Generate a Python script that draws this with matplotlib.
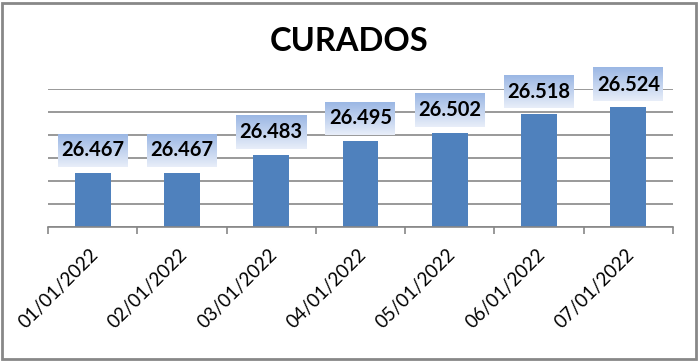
import matplotlib.pyplot as plt
import matplotlib.transforms as mtransforms
import numpy as np

dates = ['01/01/2022', '02/01/2022', '03/01/2022', '04/01/2022',
         '05/01/2022', '06/01/2022', '07/01/2022']
curados = [26.467, 26.467, 26.483, 26.495, 26.502, 26.518, 26.524]
labels = ['26.467', '26.467', '26.483', '26.495', '26.502', '26.518', '26.524']

plt.rcParams['font.family'] = ['Lato', 'DejaVu Sans']

W, H = 698, 361
fig = plt.figure(figsize=(W / 100, H / 100), dpi=100)
ax = fig.add_axes([48 / W, (H - 227) / H, 625 / W, 138 / H])

x = np.arange(len(dates))
ax.bar(x, curados, width=0.4, color='#4F81BD', zorder=3)
ax.set_xlim(-0.5, len(dates) - 0.5)
ax.set_ylim(26.42, 26.54)
ax.set_yticks(np.arange(26.42, 26.541, 0.02))
ax.yaxis.grid(True, color='#878787', linewidth=1.2)
ax.tick_params(axis='y', left=False, labelleft=False)
for s in ['left', 'top', 'right']:
    ax.spines[s].set_visible(False)
ax.spines['bottom'].set_color('#878787')
ax.spines['bottom'].set_linewidth(1.2)
ax.spines['bottom'].set_zorder(4)

ax.set_xticks(x)
ax.set_xticklabels(dates, rotation=45, ha='right', va='center',
                   rotation_mode='anchor', fontsize=13.5)
ax.tick_params(axis='x', which='major', length=0, pad=18)
shift = mtransforms.ScaledTranslation(3 / 100, 0, fig.dpi_scale_trans)
for t in ax.get_xticklabels():
    t.set_transform(t.get_transform() + shift)
ax.set_xticks(np.arange(-0.5, len(dates)), minor=True)
ax.tick_params(axis='x', which='minor', length=5, width=1.2, color='#878787')

# gradient label boxes
fig.canvas.draw()
grad = np.linspace(0, 1, 64)[:, None]
top = np.array([155, 183, 228]) / 255
bot = np.array([232, 238, 249]) / 255
img = top[None, None, :] * (1 - grad[:, :, None]) + bot[None, None, :] * grad[:, :, None]
inv = ax.transData.inverted()
for xi, v, lab in zip(x, curados, labels):
    px, py = ax.transData.transform((xi, v))
    x0, y0 = inv.transform((px - 35, py + 6))
    x1, y1 = inv.transform((px + 35, py + 39))
    ax.imshow(img, extent=(x0, x1, y0, y1), aspect='auto', zorder=5,
              clip_on=False, interpolation='bilinear')
    ax.text(xi, (y0 + y1) / 2, lab, ha='center', va='center', fontsize=14.5,
            fontweight='bold', color='black', zorder=6, clip_on=False)
ax.set_xlim(-0.5, len(dates) - 0.5)
ax.set_ylim(26.42, 26.54)

fig.text(349 / W, 1 - 51 / H, 'CURADOS', ha='center', va='baseline',
         fontsize=23.5, fontweight='bold')

border = plt.Rectangle((1.5 / W, 2.5 / H), 694 / W, 356 / H, transform=fig.transFigure,
                       fill=False, edgecolor='#888888', linewidth=2)
fig.patches.append(border)

fig.savefig('out.png', dpi=100)
